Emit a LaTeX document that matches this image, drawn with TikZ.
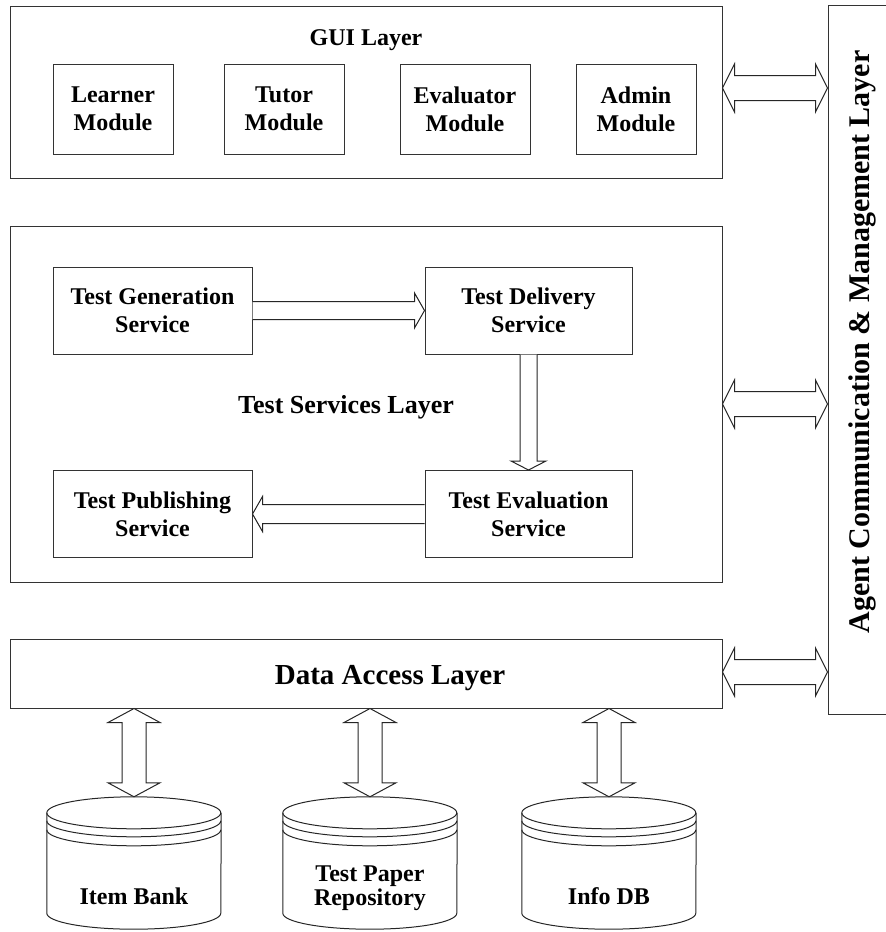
\documentclass[tikz,border=0pt]{standalone}
\usepackage{fontspec}
\setmainfont{Liberation Serif}
\usetikzlibrary{calc}
\newcommand\dbcylinder[1]{%
  \draw[ln] ([yshift=-16pt]#1.north west) arc[start angle=180,end angle=-180,x radius=87pt,y radius=16pt];
  \draw[ln] ([yshift=-24pt]#1.north west) arc[start angle=180,end angle=360,x radius=87pt,y radius=16pt];
  \draw[ln] ([yshift=-33pt]#1.north west) arc[start angle=180,end angle=360,x radius=87pt,y radius=16pt];
  \draw[ln] ([yshift=-16pt]#1.north west) -- ([yshift=16pt]#1.south west)
     arc[start angle=180,end angle=360,x radius=87pt,y radius=16pt] -- ([yshift=-16pt]#1.north east);
}
\begin{document}
\begin{tikzpicture}[x=1pt,y=-1pt,
  ln/.style={draw=black!85,line width=1pt},
  box/.style={draw=black!80,line width=1pt,inner sep=0pt},
  lbl/.style={font=\bfseries\fontsize{24}{28}\selectfont,align=center},
  modbox/.style={box,lbl,minimum height=90pt},
  svcbox/.style={box,lbl,minimum height=87pt},
  title/.style={font=\bfseries\fontsize{#1}{#1}\selectfont},
  cyl/.style={inner sep=0pt,minimum width=174pt,minimum height=132pt},
  dbtext/.style={font=\bfseries\fontsize{24}{24}\selectfont,align=center},
  blk/.style={draw=black!85,line width=1pt,line join=miter,fill=white}]
\useasboundingbox (0,0) rectangle (886,932);

% GUI layer
\node[box,minimum width=712pt,minimum height=172pt] (gui) at (366,92) {};
\node[title=24,anchor=base] (guit) at (366,45) {GUI Layer};
\node[modbox,minimum width=120pt] (lm) at (113,109) {Learner\\Module};
\node[modbox,minimum width=120pt] (tm) at (284,109) {Tutor\\Module};
\node[modbox,minimum width=130pt] (em) at (465,109) {Evaluator\\Module};
\node[modbox,minimum width=120pt] (am) at (636,109) {Admin\\Module};

% Services layer
\node[box,minimum width=712pt,minimum height=356pt] (svc) at (366,404) {};
\node[title=26,anchor=base] (svct) at (346,413) {Test Services Layer};
\node[svcbox,minimum width=199pt] (gen) at (152.5,310.5) {Test Generation\\Service};
\node[svcbox,minimum width=207pt] (del) at (528.5,310.5) {Test Delivery\\Service};
\node[svcbox,minimum width=207pt] (eva) at (528.5,514) {Test Evaluation\\Service};
\node[svcbox,minimum width=199pt] (pub) at (152.5,514) {Test Publishing\\Service};

% Data access layer
\node[box,minimum width=712pt,minimum height=69pt] (da) at (366,673.5) {};
\node[title=29,anchor=base] (dat) at (390,684) {Data Access Layer};

% Agent layer
\node[box,minimum width=68pt,minimum height=709pt] (agent) at (862,359.5) {};
\node[title=30,rotate=90] (agt) at (862,342) {Agent Communication \& Management Layer};

% Databases
\node[cyl] (ib) at (134,863) {};
\node[cyl] (tp) at (370,863) {};
\node[cyl] (idb) at (609,863) {};
\dbcylinder{ib}
\dbcylinder{tp}
\dbcylinder{idb}
\node[dbtext,anchor=base] (ibt) at (134,904) {Item Bank};
\node[dbtext] (tpt) at (370,888) {Test Paper\\Repository};
\node[dbtext,anchor=base] (idbt) at (609,904) {Info DB};

% arrows inside services
\draw[blk] let \p1=(gen.east), \p2=(del.west) in
  (\x1,\y1+9pt) -- (\x2-10pt,\y1+9pt) -- (\x2-10pt,\y1+17.5pt) -- (\x2,\y1)
  -- (\x2-10pt,\y1-17.5pt) -- (\x2-10pt,\y1-9pt) -- (\x1,\y1-9pt);
\draw[blk] let \p1=(del.south), \p2=(eva.north) in
  (\x1-8.5pt,\y1) -- (\x1-8.5pt,\y2+9pt) -- (\x1-17.5pt,\y2+9pt) -- (\x1,\y2)
  -- (\x1+17.5pt,\y2+9pt) -- (\x1+8.5pt,\y2+9pt) -- (\x1+8.5pt,\y1);
\draw[blk] let \p1=(eva.west), \p2=(pub.east) in
  (\x1,\y1+9.5pt) -- (\x2+10pt,\y1+9.5pt) -- (\x2+10pt,\y1+17.5pt) -- (\x2,\y1)
  -- (\x2+10pt,\y1-17.5pt) -- (\x2+10pt,\y1-9.5pt) -- (\x1,\y1-9.5pt);

% double arrows to agent layer
\foreach \src/\sh in {gui/4pt, svc/0pt, da/1.5pt}{
  \draw[blk] let \p1=([yshift=\sh]\src.east), \p2=(agent.west) in
    (\x1,\y1) -- (\x1+12pt,\y1+24pt) -- (\x1+12pt,\y1+12.5pt) -- (\x2-12pt,\y1+12.5pt)
    -- (\x2-12pt,\y1+24pt) -- (\x2,\y1) -- (\x2-12pt,\y1-24pt) -- (\x2-12pt,\y1-12.5pt)
    -- (\x1+12pt,\y1-12.5pt) -- (\x1+12pt,\y1-24pt) -- cycle;
}

% double arrows to databases
\foreach \db in {ib,tp,idb}{
  \draw[blk] let \p1=(\db.north), \p2=(da.south) in
    (\x1,\y2) -- (\x1+26pt,\y2-14pt) -- (\x1+12pt,\y2-14pt) -- (\x1+12pt,\y1+14pt)
    -- (\x1+26pt,\y1+14pt) -- (\x1,\y1) -- (\x1-26pt,\y1+14pt) -- (\x1-12pt,\y1+14pt)
    -- (\x1-12pt,\y2-14pt) -- (\x1-26pt,\y2-14pt) -- cycle;
}
\end{tikzpicture}
\end{document}
